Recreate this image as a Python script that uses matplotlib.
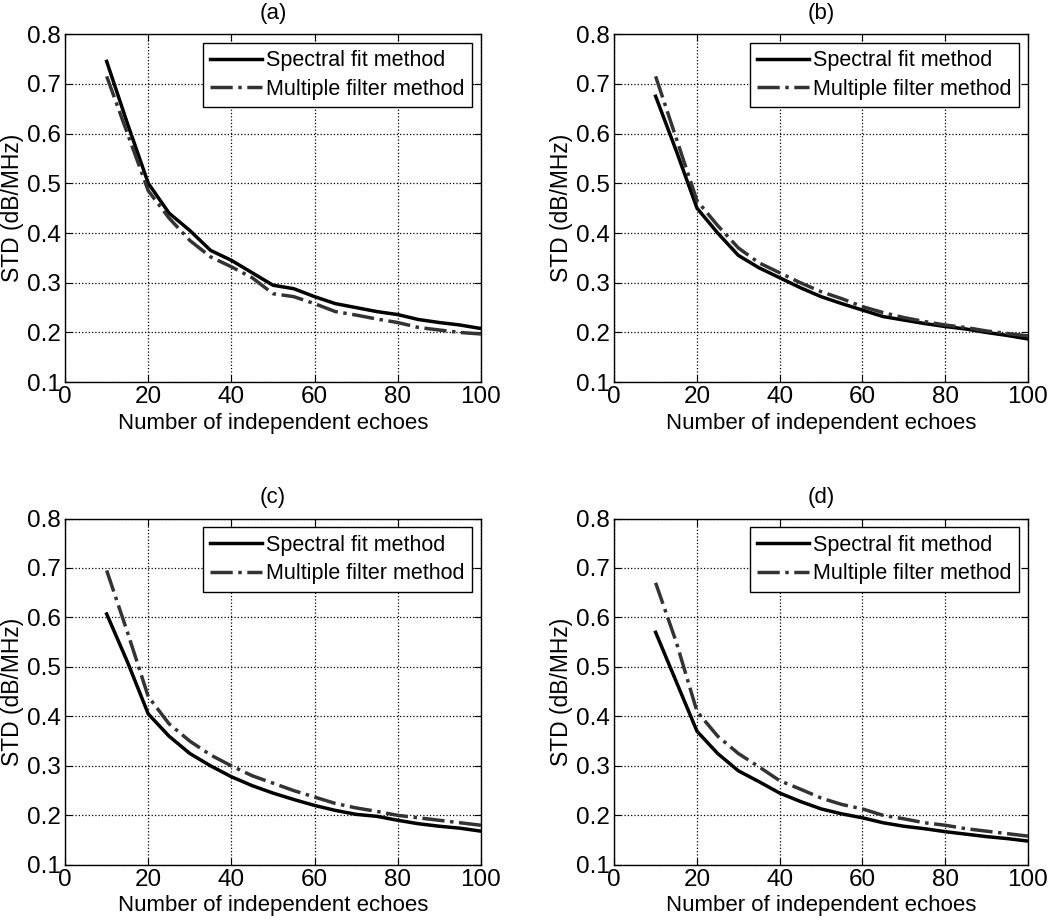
import numpy as np
import matplotlib
matplotlib.use("Agg")
import matplotlib.pyplot as plt

# number of independent echoes
echoes = [10, 15, 20, 25, 30, 35, 40, 45, 50, 55, 60, 65, 70, 75, 80, 85, 90, 95, 100]

# STD (dB/MHz), per panel
spectral_a = [0.745, 0.62, 0.50, 0.44, 0.405, 0.365, 0.345, 0.32, 0.295, 0.288, 0.272,
              0.258, 0.25, 0.242, 0.236, 0.226, 0.22, 0.215, 0.208]
multiple_a = [0.715, 0.60, 0.485, 0.43, 0.385, 0.352, 0.332, 0.31, 0.278, 0.272, 0.258,
              0.242, 0.235, 0.227, 0.22, 0.21, 0.205, 0.2, 0.197]

spectral_b = [0.675, 0.565, 0.45, 0.40, 0.355, 0.33, 0.31, 0.29, 0.272, 0.258, 0.245,
              0.232, 0.225, 0.218, 0.212, 0.207, 0.2, 0.194, 0.187]
multiple_b = [0.715, 0.59, 0.465, 0.415, 0.37, 0.34, 0.32, 0.30, 0.282, 0.268, 0.252,
              0.24, 0.23, 0.222, 0.215, 0.21, 0.203, 0.198, 0.193]

spectral_c = [0.607, 0.51, 0.405, 0.36, 0.325, 0.30, 0.278, 0.26, 0.245, 0.232, 0.22,
              0.21, 0.202, 0.198, 0.19, 0.183, 0.178, 0.174, 0.168]
multiple_c = [0.695, 0.57, 0.44, 0.385, 0.35, 0.322, 0.30, 0.28, 0.265, 0.25, 0.237,
              0.224, 0.215, 0.208, 0.20, 0.195, 0.19, 0.185, 0.18]

spectral_d = [0.57, 0.47, 0.37, 0.325, 0.29, 0.268, 0.245, 0.228, 0.213, 0.203, 0.195,
              0.185, 0.178, 0.173, 0.167, 0.162, 0.157, 0.153, 0.148]
multiple_d = [0.67, 0.55, 0.41, 0.36, 0.325, 0.298, 0.27, 0.253, 0.235, 0.222, 0.213,
              0.20, 0.193, 0.185, 0.18, 0.173, 0.168, 0.163, 0.158]

panel_titles = ['(a)', '(b)', '(c)', '(d)']
series = [(spectral_a, multiple_a), (spectral_b, multiple_b),
          (spectral_c, multiple_c), (spectral_d, multiple_d)]

xticks = [0, 20, 40, 60, 80, 100]
yticks = [0.1, 0.2, 0.3, 0.4, 0.5, 0.6, 0.7, 0.8]

plt.rcParams['font.family'] = ['Liberation Sans', 'DejaVu Sans']

fig = plt.figure(figsize=(10.5, 9.21), dpi=100)

# axes rectangles in figure fractions [left, bottom, width, height]
rects = [[0.062, 0.585, 0.396, 0.378],
         [0.585, 0.585, 0.394, 0.378],
         [0.062, 0.061, 0.396, 0.376],
         [0.585, 0.061, 0.394, 0.376]]

for rect, title, (spec, mult) in zip(rects, panel_titles, series):
    ax = fig.add_axes(rect)
    ax.plot(echoes, spec, '-', color='black', lw=2.5, label='Spectral fit method')
    ax.plot(echoes, mult, '-.', color='#333333', lw=2.5, label='Multiple filter method')
    ax.set_xlim(0, 100)
    ax.set_ylim(0.1, 0.8)
    ax.set_xticks(xticks)
    ax.set_yticks(yticks)
    ax.set_yticklabels([f'{v:.1f}' for v in yticks])
    ax.grid(True, linestyle=':', color='black', lw=0.9)
    ax.tick_params(direction='in', labelsize=17.5, length=5, top=True, right=True, pad=3)
    for s in ax.spines.values():
        s.set_linewidth(1.0)
    ax.set_title(title, fontsize=16, pad=11)
    ax.set_xlabel('Number of independent echoes', fontsize=16, labelpad=3)
    ax.set_ylabel('STD (dB/MHz)', fontsize=16.5, labelpad=2)
    leg = ax.legend(loc='upper right', fontsize=15.5, fancybox=False, framealpha=1,
                    edgecolor='black', handlelength=2.4, borderaxespad=0.4,
                    borderpad=0.35, labelspacing=0.35, handletextpad=0.2)
    leg.get_frame().set_linewidth(1.0)

fig.savefig('out.png', dpi=100)
